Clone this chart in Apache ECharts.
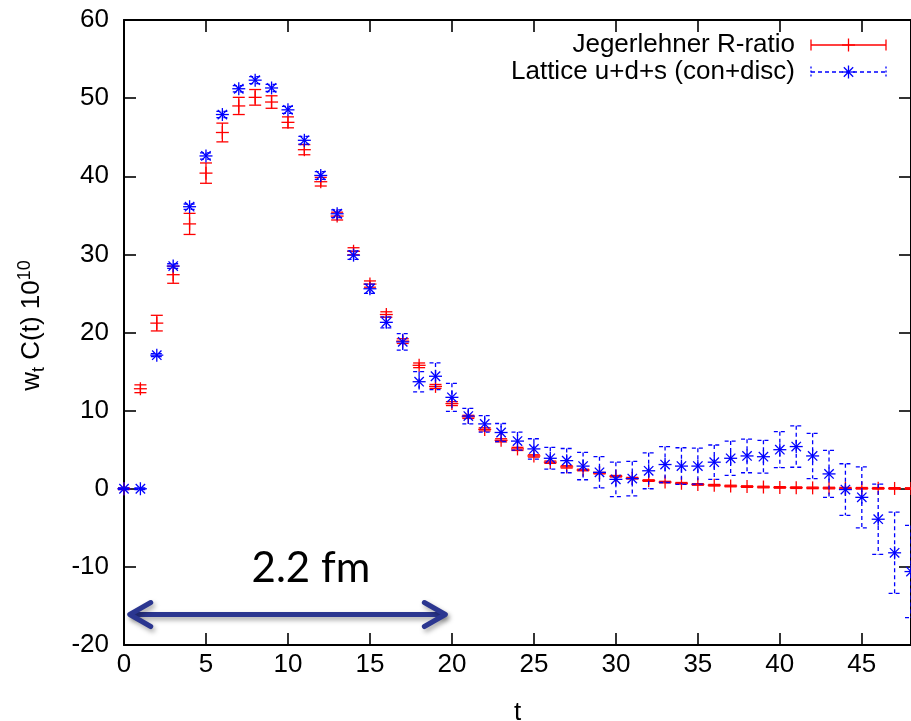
<!DOCTYPE html>
<html>
<head>
<meta charset="utf-8">
<title>w_t C(t)</title>
<script src="https://cdn.jsdelivr.net/npm/echarts@6/dist/echarts.min.js"></script>
<style>
  html, body { margin: 0; padding: 0; background: #fff; }
  #chart { width: 911px; height: 721px; }
</style>
</head>
<body>
<div id="chart"></div>
<script>
// Euclidean time slices
const tValues = [0, 1, 2, 3, 4, 5, 6, 7, 8, 9, 10, 11, 12, 13, 14, 15, 16, 17, 18, 19,
  20, 21, 22, 23, 24, 25, 26, 27, 28, 29, 30, 31, 32, 33, 34, 35, 36, 37, 38, 39,
  40, 41, 42, 43, 44, 45, 46, 47, 48];

// Jegerlehner R-ratio: central values and errors
const rRatioValues = [0, 12.8, 21.2, 27.4, 33.9, 40.4, 45.6, 49.0, 50.1, 49.5,
  46.9, 43.4, 39.3, 34.9, 30.4, 26.2, 22.3, 18.9, 15.8, 13.1,
  10.9, 9.2, 7.6, 6.2, 5.1, 4.2, 3.4, 2.8, 2.4, 2.0,
  1.6, 1.35, 1.05, 0.85, 0.7, 0.55, 0.45, 0.35, 0.28, 0.22,
  0.17, 0.14, 0.11, 0.09, 0.07, 0.06, 0.05, 0.04, 0.03];
const rRatioErrors = [0.1, 0.5, 1.0, 1.1, 1.35, 1.3, 1.2, 1.1, 1.0, 0.8,
  0.7, 0.65, 0.55, 0.5, 0.45, 0.4, 0.35, 0.3, 0.3, 0.25,
  0.25, 0.2, 0.2, 0.2, 0.2, 0.15, 0.15, 0.15, 0.1, 0.1,
  0.1, 0.1, 0.1, 0.1, 0.1, 0.1, 0.1, 0.1, 0.1, 0.1,
  0.1, 0.1, 0.1, 0.1, 0.1, 0.1, 0.1, 0.1, 0.1];

// Lattice u+d+s (connected + disconnected): central values and errors
const latticeValues = [0, 0, 17.1, 28.5, 36.1, 42.6, 47.9, 51.2, 52.3, 51.3,
  48.5, 44.6, 40.1, 35.2, 29.9, 25.6, 21.3, 18.8, 13.7, 14.4,
  11.7, 9.3, 8.3, 7.2, 6.1, 5.1, 3.9, 3.6, 2.9, 2.1,
  1.2, 1.3, 2.3, 3.1, 2.9, 2.9, 3.4, 3.9, 4.2, 4.1,
  5.0, 5.4, 4.2, 1.9, -0.1, -1.1, -3.9, -8.2, -10.6];
const latticeErrors = [0.1, 0.1, 0.2, 0.3, 0.35, 0.4, 0.4, 0.4, 0.45, 0.45,
  0.45, 0.5, 0.5, 0.5, 0.55, 0.6, 0.7, 1.05, 1.3, 1.7,
  1.8, 1.0, 1.05, 1.15, 1.15, 1.3, 1.4, 1.55, 1.75, 2.0,
  2.2, 2.2, 2.3, 2.3, 2.35, 2.3, 2.2, 2.2, 2.15, 2.1,
  2.3, 2.65, 2.9, 3.0, 3.3, 3.9, 4.5, 5.2, 5.9];

const seriesNames = ['Jegerlehner R-ratio', 'Lattice u+d+s (con+disc)'];
const xTickLabels = ['0', '5', '10', '15', '20', '25', '30', '35', '40', '45'];
const yTickLabels = ['-20', '-10', '0', '10', '20', '30', '40', '50', '60'];

// "2.2 fm" span annotation, in axis units
const spanLabel = '2.2 fm';
const spanArrow = [0.35, 19.6, -16.1];   // [t start, t end, y]
const spanText = [11.4, -10.2];          // [t, y]

const RED = '#ff0000';
const BLUE = '#0000ff';
const FONT = 'Liberation Sans, Arial, Helvetica, sans-serif';

const rRatioData = tValues.map((t, i) => [t, rRatioValues[i], rRatioErrors[i]]);
const latticeData = tValues.map((t, i) => [t, latticeValues[i], latticeErrors[i]]);

// Point marker shapes: '+' and an eight-armed star
function markerLines(cx, cy, kind, style) {
  const r = 6.5;
  const out = [
    { type: 'line', shape: { x1: cx - r, y1: cy, x2: cx + r, y2: cy }, style },
    { type: 'line', shape: { x1: cx, y1: cy - r, x2: cx, y2: cy + r }, style }
  ];
  if (kind === 'star') {
    const d = r * 0.72;
    out.push({ type: 'line', shape: { x1: cx - d, y1: cy - d, x2: cx + d, y2: cy + d }, style });
    out.push({ type: 'line', shape: { x1: cx - d, y1: cy + d, x2: cx + d, y2: cy - d }, style });
  }
  return out;
}

// Vertical error bar with caps, plus the point marker
function errorBarRenderer(color, dash, kind) {
  return function (params, api) {
    const t = api.value(0), v = api.value(1), e = api.value(2);
    const p = api.coord([t, v]);
    const hi = api.coord([t, v + e]);
    const lo = api.coord([t, v - e]);
    const cap = 6;
    const barStyle = { stroke: color, lineWidth: 1.3, lineDash: dash, fill: null };
    const markStyle = { stroke: color, lineWidth: 1.3, fill: null };
    const children = [
      { type: 'line', shape: { x1: p[0], y1: hi[1], x2: p[0], y2: lo[1] }, style: barStyle },
      { type: 'line', shape: { x1: p[0] - cap, y1: hi[1], x2: p[0] + cap, y2: hi[1] }, style: barStyle },
      { type: 'line', shape: { x1: p[0] - cap, y1: lo[1], x2: p[0] + cap, y2: lo[1] }, style: barStyle }
    ].concat(markerLines(p[0], p[1], kind, markStyle));
    return { type: 'group', children };
  };
}

// Double-headed arrow spanning the annotated range
function arrowRenderer(params, api) {
  const a = api.coord([api.value(0), api.value(2)]);
  const b = api.coord([api.value(1), api.value(2)]);
  const style = {
    stroke: '#2b3690', lineWidth: 5, lineCap: 'round', lineJoin: 'round', fill: null,
    shadowColor: 'rgba(0,0,0,0.35)', shadowBlur: 5, shadowOffsetX: 2, shadowOffsetY: 3
  };
  const hx = 21, hy = 12;
  return {
    type: 'group',
    children: [
      { type: 'line', shape: { x1: a[0] + 2, y1: a[1], x2: b[0] - 2, y2: b[1] }, style },
      { type: 'polyline', shape: { points: [[a[0] + hx, a[1] - hy], [a[0], a[1]], [a[0] + hx, a[1] + hy]] }, style },
      { type: 'polyline', shape: { points: [[b[0] - hx, b[1] - hy], [b[0], b[1]], [b[0] - hx, b[1] + hy]] }, style }
    ]
  };
}

function labelRenderer(params, api) {
  const p = api.coord([api.value(0), api.value(1)]);
  return {
    type: 'text',
    style: {
      x: p[0], y: p[1], text: spanLabel, fill: '#000',
      font: '42px Lato, "Open Sans", sans-serif', textAlign: 'center', textVerticalAlign: 'middle'
    }
  };
}

const axisLine = { show: true, onZero: false, lineStyle: { color: '#000', width: 2 } };
const axisTick = { show: true, inside: true, length: 12, lineStyle: { color: '#000', width: 1.6 } };

// Legend samples drawn as graphics to the right of the names
const legendX1 = 811, legendX2 = 886, legendXm = 848.5, legendTextX = 795;
const legendRows = [45, 72];
const legendGraphics = [];
function pushLine(x1, y1, x2, y2, color, dash) {
  legendGraphics.push({ type: 'line', shape: { x1, y1, x2, y2 },
    style: { stroke: color, lineWidth: 1.3, lineDash: dash } });
}
seriesNames.forEach((name, i) => {
  const y = legendRows[i];
  legendGraphics.push({ type: 'text', style: {
    x: legendTextX, y, text: name, fill: '#000', font: '26px ' + FONT,
    textAlign: 'right', textVerticalAlign: 'middle' } });
  const color = i === 0 ? RED : BLUE;
  const dash = i === 0 ? null : [4, 3];
  pushLine(legendX1, y, legendX2, y, color, dash);
  pushLine(legendX1, y - 5.5, legendX1, y + 5.5, color, dash ? [2, 2] : null);
  pushLine(legendX2, y - 5.5, legendX2, y + 5.5, color, dash ? [2, 2] : null);
  markerLines(legendXm, y, i === 0 ? 'plus' : 'star', { stroke: color, lineWidth: 1.3 })
    .forEach(m => legendGraphics.push(m));
});

const chart = echarts.init(document.getElementById('chart'), null, { renderer: 'canvas' });
chart.setOption({
  animation: false,
  backgroundColor: '#fff',
  grid: { left: 124, top: 20, width: 787, height: 625, containLabel: false, outerBoundsMode: 'none' },
  xAxis: [{
    type: 'value', min: 0, max: 48, interval: 5,
    name: 't', nameLocation: 'middle', nameGap: 55,
    nameTextStyle: { color: '#000', fontSize: 26, fontFamily: FONT },
    axisLine, axisTick, splitLine: { show: false },
    axisLabel: {
      color: '#000', fontSize: 26, fontFamily: FONT, margin: 7, showMaxLabel: false,
      formatter: v => xTickLabels.includes(String(v)) ? String(v) : ''
    }
  }, {
    type: 'value', min: 0, max: 48, interval: 5, position: 'top',
    axisLine, axisTick, axisLabel: { show: false }, splitLine: { show: false }
  }],
  yAxis: [{
    type: 'value', min: -20, max: 60, interval: 10,
    name: '{m|w}{sub|t}{m| C(t) 10}{sup|10}', nameLocation: 'middle', nameGap: 76, nameRotate: 90,
    nameMoveOverlap: false,
    nameTextStyle: {
      color: '#000', fontFamily: FONT, padding: [0, 0, 0, 14],
      rich: {
        m: { fontSize: 26, fontFamily: FONT, color: '#000', lineHeight: 32 },
        sub: { fontSize: 18, fontFamily: FONT, color: '#000', lineHeight: 32, verticalAlign: 'bottom' },
        sup: { fontSize: 18, fontFamily: FONT, color: '#000', lineHeight: 32, verticalAlign: 'top' }
      }
    },
    axisLine, axisTick, splitLine: { show: false },
    axisLabel: {
      color: '#000', fontSize: 26, fontFamily: FONT, margin: 15,
      formatter: v => yTickLabels.includes(String(v)) ? String(v) : ''
    }
  }, {
    type: 'value', min: -20, max: 60, interval: 10, position: 'right',
    axisLine, axisTick, axisLabel: { show: false }, splitLine: { show: false }
  }],
  graphic: legendGraphics,
  series: [{
    name: seriesNames[0], type: 'custom', data: rRatioData,
    encode: { x: 0, y: 1 }, renderItem: errorBarRenderer(RED, null, 'plus'), z: 3
  }, {
    name: seriesNames[1], type: 'custom', data: latticeData,
    encode: { x: 0, y: 1 }, renderItem: errorBarRenderer(BLUE, [4, 3], 'star'), z: 4
  }, {
    type: 'custom', data: [spanArrow], encode: { x: [0, 1], y: 2 },
    renderItem: arrowRenderer, z: 5, silent: true
  }, {
    type: 'custom', data: [spanText], encode: { x: 0, y: 1 },
    renderItem: labelRenderer, z: 5, silent: true
  }]
});
</script>
</body>
</html>
